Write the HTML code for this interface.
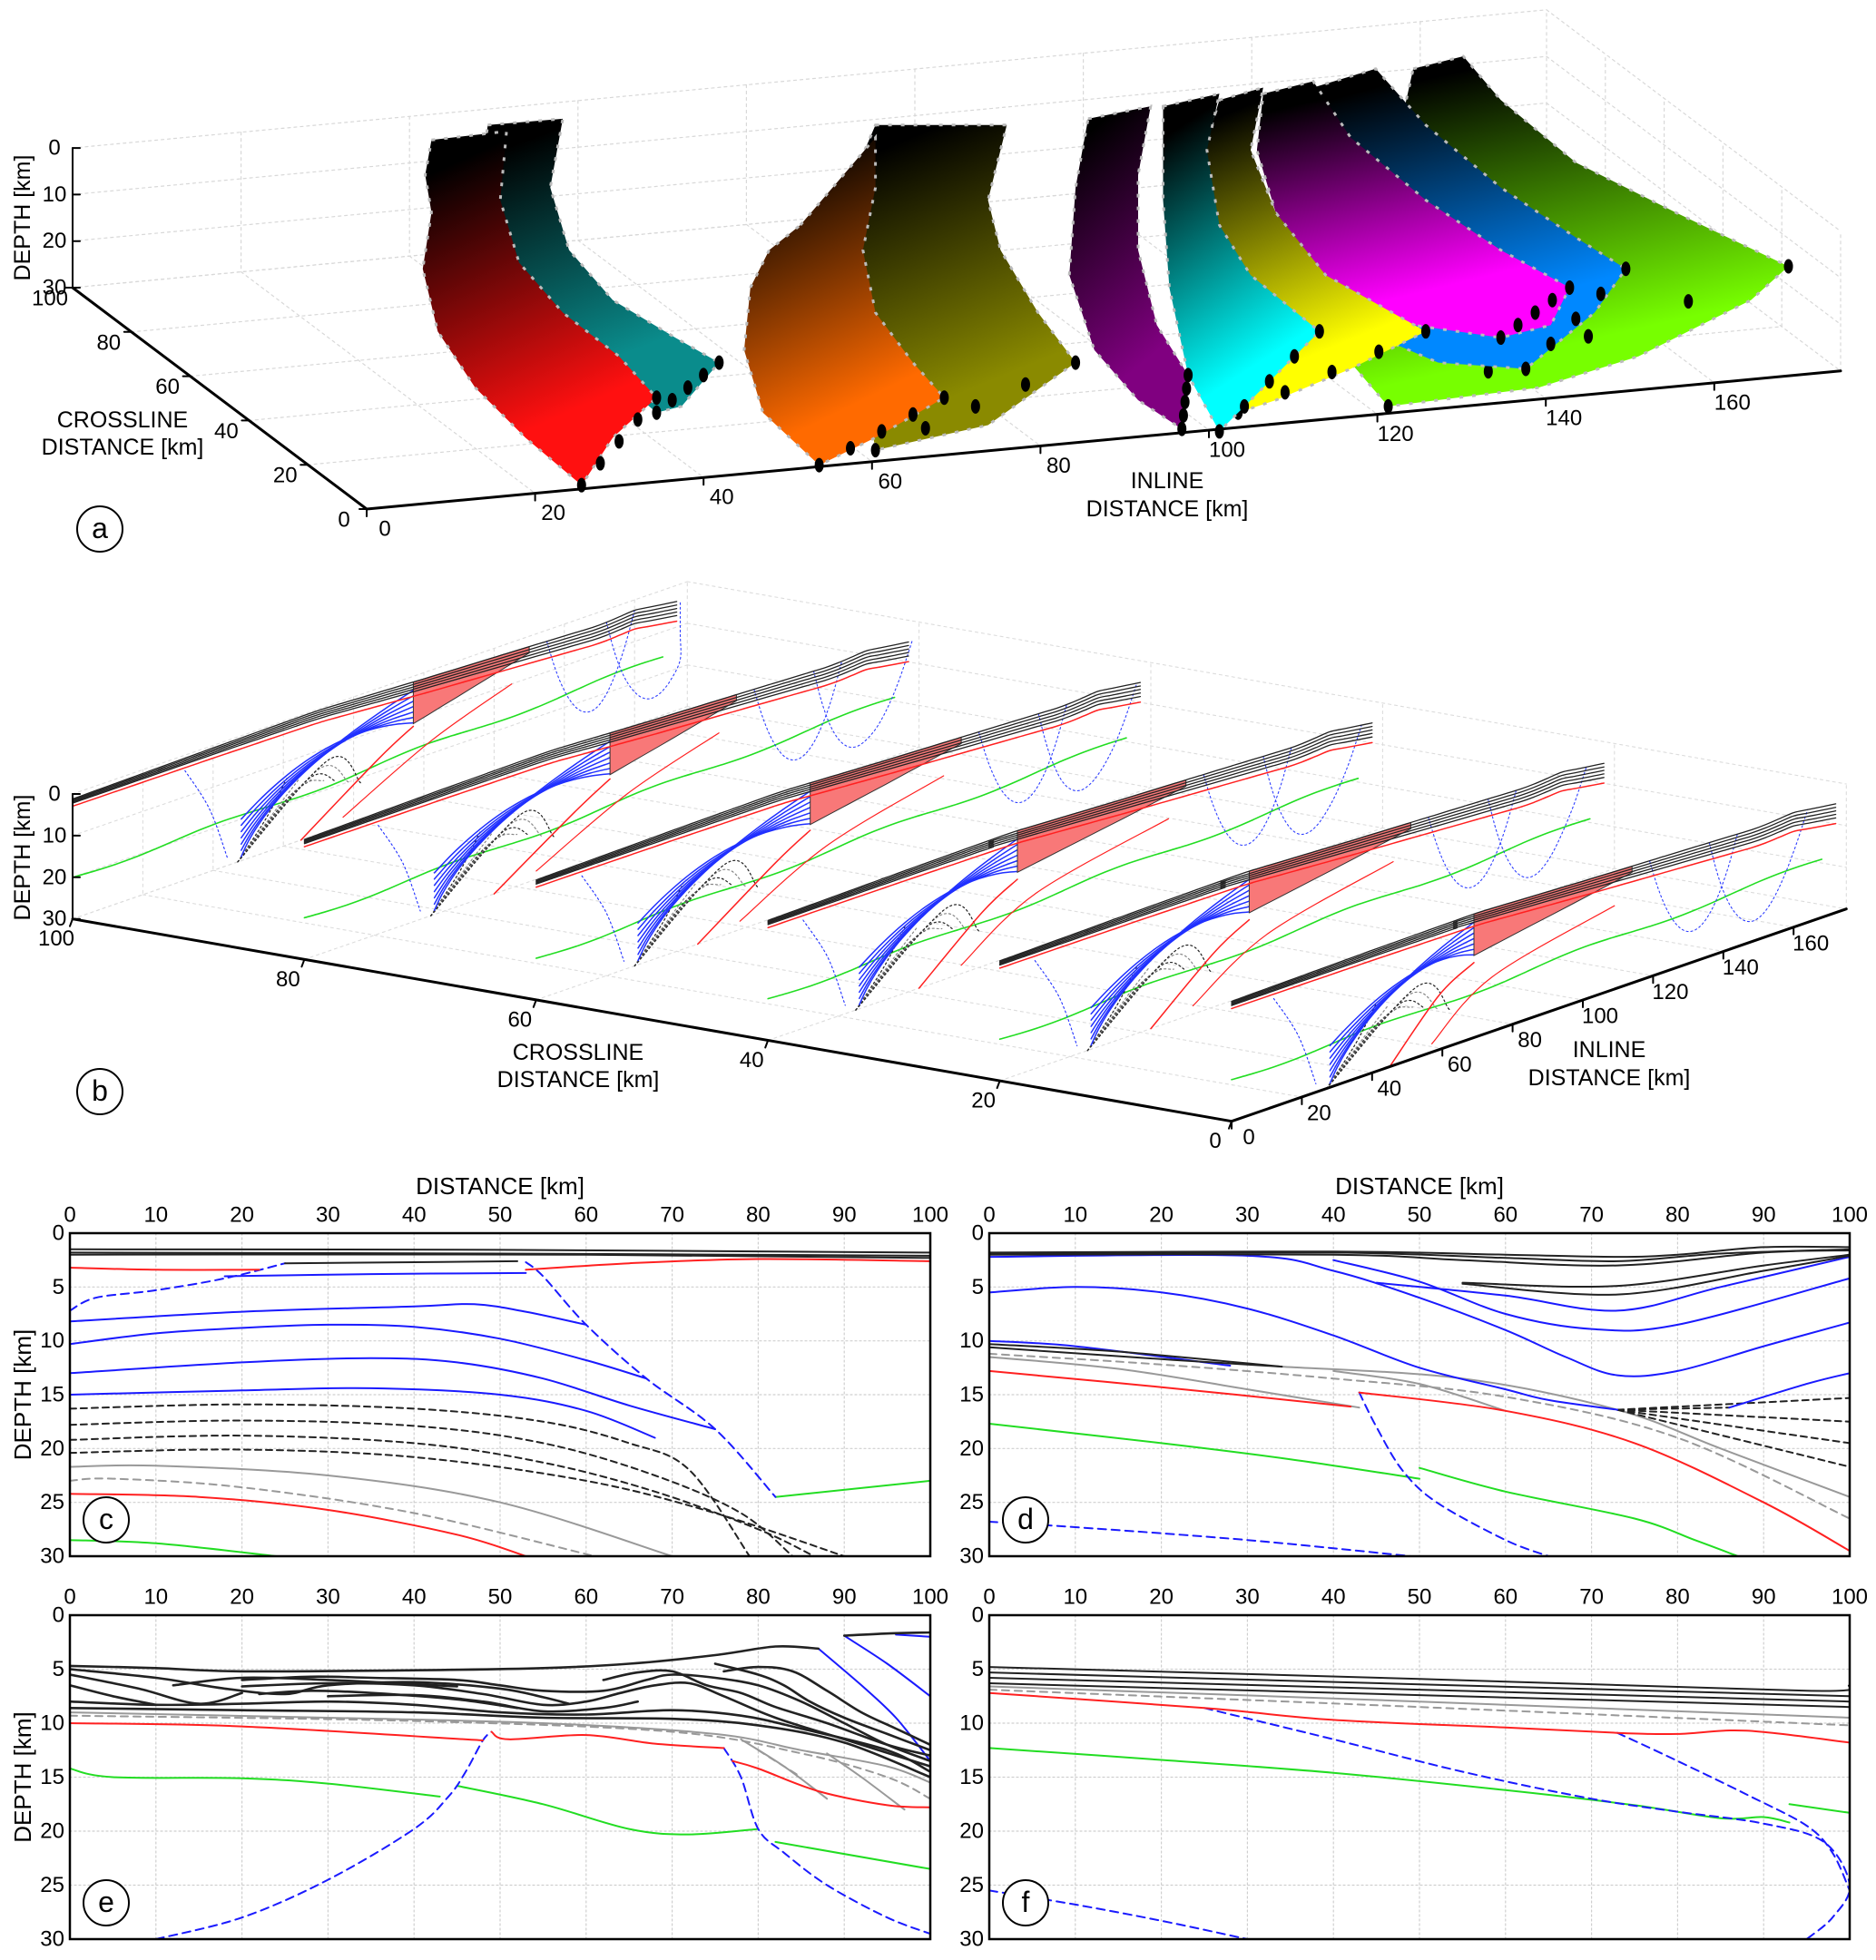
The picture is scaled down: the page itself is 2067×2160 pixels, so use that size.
<!DOCTYPE html>
<html><head><meta charset="utf-8">
<style>
html,body{margin:0;padding:0;background:#fff;}
svg{display:block;font-family:"Liberation Sans",Arial,sans-serif;}
text{font-family:"Liberation Sans",Arial,sans-serif;}
</style></head>
<body>
<svg id="fig" xmlns="http://www.w3.org/2000/svg" width="2067" height="2160" viewBox="0 0 2067 2160">
<defs id="defs"></defs>
<g id="pa"></g>
<g id="pb"></g>
<g id="pc"></g>
<g id="pd"></g>
<g id="pe"></g>
<g id="pf"></g>
</svg>
<script>
// ===== Panel a data =====
const aInlineTicks=[0,20,40,60,80,100,120,140,160];
const aCrossTicks=[0,20,40,60,80,100];
const aDepthTicks=[0,10,20,30];
const sheetColors=['#0a8c8c','#8a8a00','#ff6a00','#77ff00','#0088ff','#ff00ff','#ffff00','#00ffff','#800080','#ff1010'];
const sheetNames=['teal','olive','orange','green','blue','magenta','yellow','cyan','purple','red'];
const sheetShapes=[
[[390,100],[450,95],[440,150],[455,200],[490,240],[540,270],[575,290],[545,325],[525,330],[490,300],[450,270],[410,230],[385,190],[385,140]],
[[700,100],[805,100],[790,160],[800,200],[830,250],[860,290],[790,340],[700,360],[690,300],[680,230],[670,170]],
[[640,180],[700,110],[700,150],[690,200],[700,250],[730,290],[755,318],[700,350],[655,372],[610,330],[595,280],[600,230],[615,200]],
[[1130,55],[1170,45],[1200,80],[1260,130],[1340,170],[1430,213],[1400,240],[1310,285],[1230,310],[1110,325],[1080,290],[1060,250],[1090,200],[1110,150],[1120,100]],
[[1050,70],[1100,55],[1140,100],[1200,150],[1260,190],[1300,215],[1275,250],[1220,295],[1150,290],[1080,260],[1040,200],[1040,130]],
[[1010,75],[1050,65],[1080,110],[1140,160],[1200,200],[1255,230],[1240,260],[1200,270],[1130,260],[1060,230],[1020,170],[1005,120]],
[[975,80],[1010,70],[1000,120],[1020,170],[1060,220],[1140,265],[1080,295],[1020,320],[990,330],[960,280],[950,200],[960,130]],
[[930,85],[975,75],[965,120],[975,180],[1000,220],[1055,265],[1010,310],[975,345],[950,300],[935,230],[930,160]],
[[870,95],[920,85],[910,140],[910,200],[925,260],[950,300],[945,343],[910,320],[875,280],[855,220],[860,150]],
[[345,112],[405,105],[400,160],[415,210],[450,250],[495,285],[525,318],[490,350],[465,388],[420,350],[380,310],[350,265],[338,215],[345,170],[340,140]]
];
// ===== Panel b data =====
const bCross=[100,80,60,40,20,0];
const bFanS=[47,36,28,25,25,27];
const bSalStart=[97,87,78,71,71,69];
const bSalEnd=[130,123,121,119,117,114];
const bSurfS=[0,40,70,100,130,150,160,173];
const bSurfD=[1.2,0.6,0.3,1.5,2.5,3.2,2.5,4.0];
const bGreenS=[0,50,100,140,173];
const bGreenD=[20,19.5,18,17,16];
const bInlineTicks=[0,20,40,60,80,100,120,140,160];
const bCrossTicks=[0,20,40,60,80,100];
const bDepthTicks=[0,10,20,30];
// ===== Panel c data =====
const xTicks=[0,10,20,30,40,50,60,70,80,90,100];
const yTicks=[0,5,10,15,20,25,30];
const cBlack=[[[0,1.5],[50,1.55],[100,1.8]],[[0,1.8],[50,1.9],[100,2.1]],[[0,2.0],[60,2.0],[100,2.3]],[[25,2.8],[40,2.7],[52,2.6]]];
const cRed=[[[0,3.2],[10,3.4],[22,3.4]],[[53,3.4],[65,2.8],[80,2.4],[100,2.6]],[[0,24.2],[15,24.5],[30,25.7],[45,28],[53,30]]];
const cBlue=[[[18,4.0],[35,3.8],[53,3.7]],[[0,8.2],[20,7.3],[40,6.8],[47,6.6],[53,7.3],[60,8.5]],[[0,10.3],[10,9.3],[20,8.8],[30,8.5],[40,8.7],[50,9.8],[60,11.8],[67,13.5]],[[0,13],[20,12],[35,11.6],[45,12],[55,13.5],[65,16],[75,18.2]],[[0,15],[20,14.6],[35,14.4],[50,15],[60,16.5],[68,19]]];
const cBlueDash=[[[0,7.2],[3,6],[10,5.3],[18,4.2],[25,2.8]],[[53,2.7],[55,4],[60,8.5],[67,13.5],[75,18.2],[82,24.5]]];
const cBlackDash=[[[0,16.3],[20,15.9],[40,16.3],[55,17.5],[65,19.5],[72,22],[79,30]],[[0,17.8],[20,17.4],[40,17.9],[55,19.5],[68,22.5],[78,26],[84,30]],[[0,19.2],[20,18.8],[40,19.5],[55,21.3],[68,24],[80,27.5],[86.5,30]],[[0,20.4],[20,20.1],[40,20.8],[60,23],[75,26],[90,30]]];
const cGray=[[[0,21.7],[10,21.6],[30,22.5],[50,25],[70,30]]];
const cGrayDash=[[[0,23],[5,22.8],[20,23.6],[40,26],[61,30]]];
const cGreen=[[[0,28.5],[10,28.8],[24,30]],[[82,24.5],[100,23]]];
// ===== Panel d data =====
const dBlack=[[[0,1.8],[40,1.7],[60,2.0],[73,2.2],[80,2.0],[90,1.3],[100,1.3]],[[0,1.9],[40,1.8],[60,2.3],[73,2.6],[85,1.9],[100,1.5]],[[0,2.0],[40,2.0],[55,2.5],[73,3.0],[90,1.8],[100,1.6]],[[55,4.6],[73,4.9],[90,3],[100,2]],[[55,4.7],[73,5.7],[90,3.5],[100,2.1]],[[0,10.3],[15,11],[34,12.4]],[[0,10.6],[20,11.7],[34,12.4]]];
const dBlue=[[[45,4.6],[60,5.8],[73,7.2],[85,5],[100,2.2]],[[40,2.5],[50,4.5],[60,7.5],[70,8.9],[80,8.5],[100,4.2]],[[0,2.2],[30,2.1],[40,3.5],[50,6],[60,9],[67,11.5],[73,13.2],[80,12.8],[90,10.5],[100,8.3]],[[0,5.5],[10,5],[20,5.5],[30,7],[40,9.5],[50,12.5],[60,14.5],[65,15.5],[73,16.4]],[[0,10],[10,10.5],[28,12.3]],[[86,16.2],[95,14],[100,13]]];
const dGray=[[[0,11.5],[15,12.6],[30,14.5],[43,16.2]],[[34,12.4],[55,13.5],[73,16.4],[85,20],[100,24.5]],[[40,12.8],[50,14],[60,16.5]]];
const dGrayDash=[[[0,11.2],[20,12.2],[40,13.5],[60,15.2],[80,19],[100,26.5]]];
const dRed=[[[0,12.8],[20,14.3],[42,16.1]],[[43,14.8],[60,16.5],[75,19.5],[90,25],[100,29.5]]];
const dBlueDash=[[[43,14.8],[45,18],[48,22],[52,25],[60,28.5],[65,30]],[[0,26.8],[10,27.3],[30,28.5],[49,30]]];
const dGreen=[[[0,17.7],[20,19.5],[35,21],[50,22.8]],[[50,21.8],[60,24],[75,26.5],[82,28.5],[87,30]]];
const dBlackDash=[[[73,16.4],[100,15.3]],[[73,16.4],[100,17.5]],[[73,16.4],[100,19.5]],[[73,16.4],[100,21.7]],[[73,16.4],[86,16.2]]];
// ===== Panel e data =====
const eBlack=[[[0,4.7],[10,4.9],[20,5.2],[40,5.1],[55,4.9],[65,4.5],[75,3.7],[82,2.9],[87,3.1]],
[[0,5.0],[10,5.8],[18,6.8],[25,7.3],[30,6.5],[40,6.2],[50,6.8],[55,7.6],[58,8.2]],
[[0,5.5],[8,6.8],[15,8.2],[20,7.2]],[[0,6.5],[5,7.5],[10,8.3]],
[[20,6.0],[28,5.7],[35,5.8],[45,6.0],[50,6.5],[55,7.0],[62,7.0],[67,6.0],[70,5.5],[75,5.8],[80,6.5],[85,8],[90,10],[95,12],[100,13.5]],
[[20,6.6],[30,6.3],[40,6.5],[48,7.3],[55,8.3],[60,8.0],[64,7.2],[68,6.5],[72,6.3],[76,7.5],[82,9.5],[90,11.5],[100,14]],
[[22,7.3],[28,7.0],[35,7.2],[45,7.8],[52,8.6]],
[[0,8.0],[10,8.3],[20,8.2],[30,8.0],[40,8.3],[50,9.0],[60,9.2],[70,8.8],[78,9.3],[85,10.5],[95,12.5],[100,14.5]],
[[0,8.6],[20,8.8],[40,9.0],[55,9.5],[70,9.6],[80,10.2],[90,11.8],[100,15]],
[[62,6],[66,5.3],[70,5.2],[74,6.5],[78,7.2],[82,8.5],[88,10],[95,12],[100,13]],
[[75,4.5],[80,5.5],[83,6.5],[86,8],[90,9.5],[95,11],[100,12.5]],
[[76,5.2],[80,4.8],[84,5.2],[88,7],[92,9],[96,10.5],[100,12]],
[[12,6.5],[20,5.8],[30,6.0],[38,6.3],[45,6.6]],
[[30,7.5],[40,7.4],[48,8.0],[55,8.9],[62,8.6],[66,8.0]],
[[90,1.9],[95,1.7],[100,1.6]]];
const eBlue=[[[87,3.1],[92,6.5],[96,9.5],[100,13.5]],[[90,1.9],[95,4.5],[100,7.5]],[[96,1.8],[100,2.0]]];
const eGray=[[[0,9.0],[30,9.5],[55,10.0],[75,11.0],[85,12.5],[95,14],[100,15.5]],[[78,11.5],[83,14],[88,17]],[[88,12.8],[92,15],[97,18]]];
const eGrayDash=[[[0,9.3],[40,9.8],[70,10.8],[85,12.8],[95,15],[100,17]],[[80,12.5],[85,15]]];
const eRed=[[[0,10],[20,10.3],[48,11.6]],[[49,10.8],[51,11.5],[60,11.1],[68,11.9],[76,12.3]],[[77,13.5],[80,14.2],[87,16.3],[95,17.6],[100,17.8]]];
const eGreen=[[[0,14.2],[5,15],[20,15.1],[30,15.6],[43,16.8]],[[45,15.8],[55,17.5],[65,19.8],[72,20.3],[80,19.8]],[[82,21],[100,23.5]]];
const eBlueDash=[[[10,30],[20,28],[30,24.5],[40,19.8],[44,16.8],[46,14.5],[48,11.6],[49,10.8]],[[76,12.3],[78,15],[80,19.8],[83,22],[88,25],[95,28],[100,29.5]]];
// ===== Panel f data =====
const fBlack=[[[0,4.8],[50,5.9],[95,7.0],[100,6.5]],[[0,5.3],[50,6.4],[100,7.5]],[[0,5.8],[50,6.9],[100,8]],[[0,6.3],[50,7.4],[100,8.5]]];
const fGray=[[[0,6.6],[50,8.0],[100,9.5]]];
const fGrayDash=[[[0,6.9],[50,8.5],[100,10.2]]];
const fRed=[[[0,7.2],[25,8.6],[40,9.7],[60,10.4],[73,10.9],[80,11],[88,10.7],[100,11.8]]];
const fGreen=[[[0,12.3],[20,13.4],[40,14.6],[60,16.2],[75,17.6],[85,18.8],[90,18.7],[93,19.2]],[[93,17.5],[100,18.3]]];
const fBlueDash=[[[25,8.6],[40,11.5],[55,14.5],[70,17],[80,18.2],[90,19.3],[97,21],[100,25],[98,28],[95,30]],[[0,25.5],[10,26.8],[20,28.3],[30,30]],[[73,10.9],[80,13.5],[88,16.6],[95,19.5],[98,22],[100,25.5]]];

// ===== helpers =====
const NS='http://www.w3.org/2000/svg';
function mk(tag,parent,attrs){const e=document.createElementNS(NS,tag);for(const k in attrs)e.setAttribute(k,attrs[k]);parent.appendChild(e);return e;}
function txt(parent,x,y,s,size,anchor,name){const t=mk('text',parent,{x:x,y:y,'font-size':size,'text-anchor':anchor||'middle','dominant-baseline':'central',fill:'#000'});t.textContent=s;


return t;}
function smoothD(pts){
  if(pts.length<3)return 'M'+pts.map(q=>q[0].toFixed(1)+','+q[1].toFixed(1)).join(' L');
  let d='M'+pts[0][0].toFixed(1)+','+pts[0][1].toFixed(1);
  for(let i=0;i<pts.length-1;i++){
    const p0=pts[Math.max(0,i-1)],p1=pts[i],p2=pts[i+1],p3=pts[Math.min(pts.length-1,i+2)];
    const c1=[p1[0]+(p2[0]-p0[0])/6,p1[1]+(p2[1]-p0[1])/6];
    const c2=[p2[0]-(p3[0]-p1[0])/6,p2[1]-(p3[1]-p1[1])/6];
    d+=' C'+c1[0].toFixed(1)+','+c1[1].toFixed(1)+' '+c2[0].toFixed(1)+','+c2[1].toFixed(1)+' '+p2[0].toFixed(1)+','+p2[1].toFixed(1);
  }
  return d;
}
function poly(parent,pts,color,w,dash,name){const p=mk('path',parent,{d:smoothD(pts),fill:'none',stroke:color,'stroke-width':w,'stroke-linejoin':'round','stroke-linecap':'round'});if(dash)p.setAttribute('stroke-dasharray',dash);


return p;}
function circleLabel(parent,x,y,s){const c=mk('circle',parent,{cx:x,cy:y,r:25,fill:'#fff',stroke:'#000','stroke-width':2});


txt(parent,x,y-1,s,32,'middle','panel-label-'+s);}
const S=1.378;

// ===== Panel a =====
(function(){
const g=document.getElementById('pa');const defs=document.getElementById('defs');
function pa(i,c,d){return [404+9.28*i-3.24*c, 561-0.87*i-2.44*c+(d-30)*5.13];}
const grid='#d8d8d8';
aInlineTicks.forEach(i=>{poly(g,[pa(i,100,0),pa(i,100,30)],grid,1.2,'3 4','grid-a-inline');poly(g,[pa(i,100,30),pa(i,0,30)],grid,1.2,'3 4','grid-a-inline-floor');});
aDepthTicks.forEach(d=>{poly(g,[pa(0,100,d),pa(175,100,d)],grid,1.2,'3 4','grid-a-depth');poly(g,[pa(175,100,d),pa(175,0,d)],grid,1.2,'3 4','grid-a-depth-side');});
aCrossTicks.forEach(c=>{poly(g,[pa(0,c,30),pa(175,c,30)],grid,1.2,'3 4','grid-a-cross');poly(g,[pa(175,c,30),pa(175,c,0)],grid,1.2,'3 4','grid-a-cross-side');});
sheetShapes.forEach((sh,k)=>{
  const id='ga'+k;
  const lg=mk('linearGradient',defs,{id:id,x1:0,y1:0,x2:0.3,y2:1});
  mk('stop',lg,{offset:'0','stop-color':'#000'});
  mk('stop',lg,{offset:'0.12','stop-color':'#000'});
  mk('stop',lg,{offset:'0.9','stop-color':sheetColors[k]});
  const pts=sh.map(p=>[p[0]*S,p[1]*S]);
  const pg=mk('polygon',g,{points:pts.map(q=>q[0].toFixed(1)+','+q[1].toFixed(1)).join(' '),fill:'url(#'+id+')',stroke:'#bbb','stroke-width':3,'stroke-dasharray':'4 10'});
  
  
  const rIdx=pts.reduce((m,p,ix)=>p[0]>pts[m][0]?ix:m,0);
  const bIdx=pts.reduce((m,p,ix)=>p[1]>pts[m][1]?ix:m,0);
  const A=pts[rIdx],B=pts[bIdx];
  for(let t=0;t<=1.001;t+=0.25){const dt=mk('ellipse',g,{cx:A[0]+(B[0]-A[0])*t,cy:A[1]+(B[1]-A[1])*t,rx:5,ry:8,fill:'#000'});
    
    }
});
poly(g,[pa(0,0,30),pa(175,0,30)],'#000',3,null,'a-inline-axis');
poly(g,[pa(0,0,30),pa(0,100,30)],'#000',3,null,'a-crossline-axis');
poly(g,[pa(0,100,0),pa(0,100,30)],'#000',2,null,'a-depth-axis');
aInlineTicks.forEach(i=>{const p=pa(i,0,30);poly(g,[p,[p[0],p[1]+8]],'#000',2,null,'a-inline-tick');txt(g,p[0]+20,p[1]+22,String(i),24,'middle','a-inline-tick-label');});
aCrossTicks.forEach(c=>{const p=pa(0,c,30);poly(g,[p,[p[0]-8,p[1]]],'#000',2,null,'a-cross-tick');txt(g,p[0]-25,p[1]+12,String(c),24,'middle','a-cross-tick-label');});
aDepthTicks.forEach(d=>{const p=pa(0,100,d);poly(g,[p,[p[0]+8,p[1]]],'#000',2,null,'a-depth-tick');txt(g,p[0]-20,p[1],String(d),24,'middle','a-depth-tick-label');});
txt(g,135,463,'CROSSLINE',25,'middle','a-crossline-title');
txt(g,135,493,'DISTANCE [km]',25,'middle','a-crossline-title-2');
txt(g,1286,530,'INLINE',25,'middle','a-inline-title');
txt(g,1286,561,'DISTANCE [km]',25,'middle','a-inline-title-2');
const dt=txt(g,0,0,'DEPTH [km]',25,'middle','a-depth-title');dt.setAttribute('transform','translate(25,240) rotate(-90)');
circleLabel(g,110,583,'a');
})();

// ===== Panel b =====
(function(){
const g=document.getElementById('pb');
function Q(s,c,d){return [80+(100-c)*12.77+s*3.87, 875+(100-c)*2.23-s*1.337+d*4.59];}
function interp(xs,ys,x){if(x<=xs[0])return ys[0];for(let i=1;i<xs.length;i++){if(x<=xs[i]){const t=(x-xs[i-1])/(xs[i]-xs[i-1]);return ys[i-1]+t*(ys[i]-ys[i-1]);}}return ys[ys.length-1];}
function surf(s){return interp(bSurfS,bSurfD,s);}
const grid='#dcdcdc';
bInlineTicks.forEach(s=>{poly(g,[Q(s,100,0),Q(s,100,30)],grid,1.1,'3 4','grid-b-inline');poly(g,[Q(s,100,30),Q(s,0,30)],grid,1.1,'3 4','grid-b-inline-floor');});
bDepthTicks.forEach(d=>{poly(g,[Q(0,100,d),Q(175,100,d)],grid,1.1,'3 4','grid-b-depth');poly(g,[Q(175,100,d),Q(175,0,d)],grid,1.1,'3 4','grid-b-depth-side');});
bCrossTicks.forEach(c=>{poly(g,[Q(0,c,30),Q(175,c,30)],grid,1.1,'3 4','grid-b-cross');poly(g,[Q(175,c,30),Q(175,c,0)],grid,1.1,'3 4','grid-b-cross-side');});
bCross.forEach((c,k)=>{
  const f=bFanS[k],a=bSalStart[k],b=bSalEnd[k];
  const P=(s,d)=>Q(s,c,d);
  const sec=mk('g',g,{});
  
  
  const gr=[];for(let s=0;s<=173;s+=6)gr.push(P(s,interp(bGreenS,bGreenD,s)+Math.sin(s/9)*0.6));
  poly(sec,gr,'#22dd22',1.6,null,'b-green-horizon');
  for(let i=0;i<7;i++){poly(sec,[P(f,30),P(f+8+i*3,22-i*1.5),P(f+14+i*3.5,14+i*1.2)],i%2?'#888':'#222',1.2,'2 3','b-dotted-fan');}
  poly(sec,[P(f+18,30),P(a-10,17),P(a,12)],'#ff2020',1.5,null,'b-red-fault');
  poly(sec,[P(f+30,28),P(a+5,17),P(b-5,10)],'#ff2020',1.2,null,'b-red-fault-2');
  for(let i=0;i<7;i++){const pts=[];const s0=f+1,d0=29-i*1.5,s1=f+10+i*2.5,d1=13-i*1.4,s2=a,d2=surf(a)+2+i*1.3;
    for(let t=0;t<=1.001;t+=0.1){const s=(1-t)*(1-t)*s0+2*t*(1-t)*s1+t*t*s2;const d=(1-t)*(1-t)*d0+2*t*(1-t)*d1+t*t*d2;pts.push(P(s,d));}
    poly(sec,pts,'#2030ff',1.5,null,'b-blue-horizon');}
  poly(sec,[P(f-15,surf(f-15)+3),P(f-8,15),P(f-3,28)],'#2030ff',1.1,'2 3','b-blue-dotted');
  const top=[],bot=[];for(let s=a;s<=b+0.01;s+=(b-a)/8){top.push(P(s,surf(s)));}
  for(let s=b;s>=a-0.01;s-=(b-a)/8){const t=(s-a)/(b-a);bot.push(P(s,surf(s)+10*(1-t)+1.5*t));}
  const sp=mk('polygon',sec,{points:top.concat(bot).map(q=>q[0].toFixed(1)+','+q[1].toFixed(1)).join(' '),fill:'#f87878',stroke:'#333','stroke-width':1});
  
  
  [[b+5,b+17,b+30,20],[b+22,b+33,b+50,22]].forEach(u=>{const pts=[];for(let t=0;t<=1.001;t+=0.1){const s=(1-t)*(1-t)*u[0]+2*t*(1-t)*u[1]+t*t*u[2];const dd=Math.min(173,s);const d=surf(dd)+(u[3]*2)*t*(1-t)*2;pts.push(P(Math.min(s,173),d));}
    poly(sec,pts,'#3040ff',1.1,'2 3','b-blue-dotted-u');});
  for(let j=0;j<5;j++){const pts=[];for(let s=0;s<=173;s+=4){if(s>a&&s<b&&j>0)continue;const sp2=0.25+s/173*0.6;pts.push(P(s,surf(s)+j*sp2));}
    poly(sec,pts,'#222',1.3,null,'b-black-horizon');}
  const rd=[];for(let s=0;s<=173;s+=4){rd.push(P(s,surf(s)+5*(0.25+s/173*0.6)+0.5));}
  poly(sec,rd,'#ff2020',1.5,null,'b-red-horizon');
});
poly(g,[Q(0,0,30),Q(175,0,30)],'#000',3,null,'b-inline-axis');
poly(g,[Q(0,0,30),Q(0,100,30)],'#000',3,null,'b-crossline-axis');
poly(g,[Q(0,100,0),Q(0,100,30)],'#000',2,null,'b-depth-axis');
bInlineTicks.forEach(s=>{const p=Q(s,0,30);poly(g,[p,[p[0],p[1]+8]],'#000',2,null,'b-inline-tick');txt(g,p[0]+19,p[1]+18,String(s),24,'middle','b-inline-tick-label');});
bCrossTicks.forEach(c=>{const p=Q(0,c,30);poly(g,[p,[p[0]-3,p[1]+8]],'#000',2,null,'b-cross-tick');txt(g,p[0]-18,p[1]+22,String(c),24,'middle','b-cross-tick-label');});
bDepthTicks.forEach(d=>{const p=Q(0,100,d);poly(g,[p,[p[0]+8,p[1]]],'#000',2,null,'b-depth-tick');txt(g,p[0]-20,p[1],String(d),24,'middle','b-depth-tick-label');});
txt(g,637,1160,'CROSSLINE',25,'middle','b-crossline-title');
txt(g,637,1190,'DISTANCE [km]',25,'middle','b-crossline-title-2');
txt(g,1773,1157,'INLINE',25,'middle','b-inline-title');
txt(g,1773,1188,'DISTANCE [km]',25,'middle','b-inline-title-2');
const dt=txt(g,0,0,'DEPTH [km]',25,'middle','b-depth-title');dt.setAttribute('transform','translate(25,945) rotate(-90)');
circleLabel(g,110,1203,'b');
})();

// ===== 2D panels =====
function panel(id,box,label,showX,showY,sets){
  const g=document.getElementById(id);
  const X=v=>box.x0+(box.x1-box.x0)*v/100, Y=v=>box.y0+(box.y1-box.y0)*v/30;
  const clip='cl'+id;const cp=mk('clipPath',document.getElementById('defs'),{id:clip});mk('rect',cp,{x:box.x0,y:box.y0,width:box.x1-box.x0,height:box.y1-box.y0});
  xTicks.forEach(t=>{if(t>0&&t<100)poly(g,[[X(t),box.y0],[X(t),box.y1]],'#cfcfcf',1.2,'2 3','grid-x');
    txt(g,X(t),box.y0-20,String(t),24,'middle','x-tick-label');});
  yTicks.forEach(t=>{if(t>0&&t<30)poly(g,[[box.x0,Y(t)],[box.x1,Y(t)]],'#cfcfcf',1.2,'2 3','grid-y');
    txt(g,box.x0-6,Y(t),String(t),24,'end','y-tick-label');});
  const lg=mk('g',g,{'clip-path':'url(#'+clip+')'});
  
  
  sets.forEach(st=>{st.data.forEach(line=>poly(lg,line.map(p=>[X(p[0]),Y(p[1])]),st.color,st.w||2,st.dash,st.name));});
  const fr=mk('rect',g,{x:box.x0,y:box.y0,width:box.x1-box.x0,height:box.y1-box.y0,fill:'none',stroke:'#000','stroke-width':2.5});
  
  
  if(showX)txt(g,(box.x0+box.x1)/2,box.y0-52,'DISTANCE [km]',26,'middle','x-axis-title');
  if(showY){const t=txt(g,0,0,'DEPTH [km]',26,'middle','y-axis-title');t.setAttribute('transform','translate(25,'+((box.y0+box.y1)/2)+') rotate(-90)');}
  circleLabel(g,box.x0+40,box.y1-40,label);
}
const BL='#1a1aff',RD='#ff2020',GN='#22dd22',GY='#999999',BK='#222222';
panel('pc',{x0:77,x1:1025,y0:1359,y1:1715},'c',true,true,[
 {data:cGreen,color:GN,name:'green-horizon'},{data:cGrayDash,color:GY,dash:'8 6',name:'gray-dashed-horizon'},{data:cGray,color:GY,name:'gray-horizon'},
 {data:cBlackDash,color:BK,dash:'7 5',name:'black-dashed-horizon'},{data:cBlue,color:BL,name:'blue-horizon'},{data:cBlueDash,color:BL,dash:'9 6',name:'blue-dashed-fault'},
 {data:cRed,color:RD,name:'red-horizon'},{data:cBlack,color:BK,name:'black-horizon'}]);
panel('pd',{x0:1090,x1:2038,y0:1359,y1:1715},'d',true,false,[
 {data:dGreen,color:GN,name:'green-horizon'},{data:dGrayDash,color:GY,dash:'8 6',name:'gray-dashed-horizon'},{data:dGray,color:GY,name:'gray-horizon'},
 {data:dBlackDash,color:BK,dash:'7 5',name:'black-dashed-horizon'},{data:dBlue,color:BL,name:'blue-horizon'},{data:dBlueDash,color:BL,dash:'9 6',name:'blue-dashed-fault'},
 {data:dRed,color:RD,name:'red-horizon'},{data:dBlack,color:BK,name:'black-horizon'}]);
panel('pe',{x0:77,x1:1025,y0:1780,y1:2137},'e',false,true,[
 {data:eGreen,color:GN,name:'green-horizon'},{data:eGrayDash,color:GY,dash:'8 6',name:'gray-dashed-horizon'},{data:eGray,color:GY,name:'gray-horizon'},
 {data:eBlue,color:BL,name:'blue-horizon'},{data:eBlueDash,color:BL,dash:'9 6',name:'blue-dashed-fault'},
 {data:eRed,color:RD,name:'red-horizon'},{data:eBlack,color:BK,w:2.6,name:'black-horizon'}]);
panel('pf',{x0:1090,x1:2038,y0:1780,y1:2137},'f',false,false,[
 {data:fGreen,color:GN,name:'green-horizon'},{data:fGrayDash,color:GY,dash:'8 6',name:'gray-dashed-horizon'},{data:fGray,color:GY,name:'gray-horizon'},
 {data:fBlueDash,color:BL,dash:'9 6',name:'blue-dashed-fault'},
 {data:fRed,color:RD,name:'red-horizon'},{data:fBlack,color:BK,name:'black-horizon'}]);
</script>
</body></html>
